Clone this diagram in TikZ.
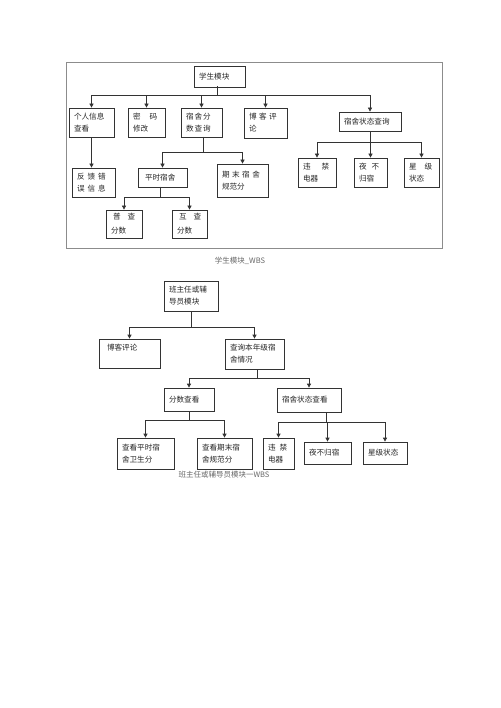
\documentclass[tikz,border=0pt]{standalone}
\usepackage{fontspec}
\setmainfont{Noto Sans CJK SC}
\usetikzlibrary{arrows.meta}
\begin{document}
\begin{tikzpicture}[x=1pt,y=-1pt,
  bx/.style 2 args={draw=black!80, line width=0.7pt, text width=#1, minimum height=#2,
    inner xsep=5pt, inner ysep=0pt, align=left, font=\fontsize{7.6}{12}\selectfont, text=black!85},
  arr/.style={draw=black!80, line width=0.7pt, -{Triangle[length=4pt,width=4pt]}},
  captxt/.style={font=\fontsize{7.5}{9}\selectfont, text=black!60}]
\useasboundingbox (0,0) rectangle (500,708);
% frame of top diagram
\draw[black!45, line width=0.6pt] (66,62) rectangle (442,248);

% ---------- top diagram: student module ----------
\node[bx={41pt}{21pt}] (root) at (219.5,76.5) {学生模块};
\node[bx={35pt}{29pt}] (gr) at (91.5,122.5) {个人信息\\查看};
\node[bx={27pt}{29pt}] (mm) at (146.5,122.5) {密\hspace{9pt}码\\修改};
\node[bx={31pt}{29pt}] (sf) at (201.5,122.5) {宿\kern1pt 舍\kern1pt 分\\数\kern1pt 查\kern1pt 询};
\node[bx={33pt}{30pt}] (bk) at (265.5,123) {博\kern2.5pt 客\kern2.5pt 评\\论};
\node[bx={52pt}{19pt}] (zt) at (370,121.5) {宿舍状态查询};
\node[bx={33pt}{29pt}] (fk) at (93.5,182.5) {反\kern3pt 馈\kern3pt 错\\误\kern3pt 信\kern3pt 息};
\node[bx={39pt}{19pt}] (ps) at (162.5,177.5) {\kern2pt 平时宿舍};
\node[bx={41pt}{33pt}] (qm) at (242.5,180.5) {期\kern2.5pt 末\kern2.5pt 宿\kern2.5pt 舍\\规范分};
\node[bx={26pt}{28pt}] (pc) at (124,224) {\kern2pt 普\hspace{7pt}查\\\kern2pt 分数};
\node[bx={25pt}{28pt}] (hc) at (189.5,224) {\kern2pt 互\hspace{7pt}查\\\kern2pt 分数};
\node[bx={28pt}{29pt}] (wj) at (317,172.5) {违\hspace{11pt}禁\\电器};
\node[bx={23pt}{29pt}] (yb) at (370.5,172.5) {夜\hspace{5pt}不\\归宿};
\node[bx={25pt}{29pt}] (xj) at (421.5,172.5) {星\hspace{8pt}级\\状态};

\coordinate (busA) at (0,95);
\coordinate (busB) at (0,152);
\coordinate (busC) at (0,197);
\coordinate (busD) at (0,142);
\coordinate (rootout) at (217,86.5);
\coordinate (sfout) at (203,137);
\coordinate (psout) at (160,187);

\foreach \c in {gr,mm,sf,bk,zt}
  \draw[arr] (rootout) -- (rootout |- busA) -| (\c.north);
\draw[arr] (gr.south) -- (gr.south |- fk.north);
\foreach \c in {ps,qm}
  \draw[arr] (sfout) -- (sfout |- busB) -| (\c.north);
\foreach \c in {pc,hc}
  \draw[arr] (psout) -- (psout |- busC) -| (\c.north);
\foreach \c in {wj,yb,xj}
  \draw[arr] (zt.south) -- (zt.south |- busD) -| (\c.north);

\node[captxt] (cap1) at (240,261) {学生模块\_WBS};

% ---------- bottom diagram: head teacher module ----------
\node[bx={44pt}{30pt}] (r2) at (191,296) {班主任或辅\\导员模块};
\node[bx={51pt}{29pt}] (bk2) at (129.5,353.5) {\kern3pt 博客评论\\\mbox{}};
\node[bx={49pt}{30pt}] (cx) at (254.5,354) {查询本年级宿\\舍情况};
\node[bx={40pt}{23pt}] (fs) at (189,399.5) {分数查看};
\node[bx={54pt}{24pt}] (zk) at (309,400) {宿舍状态查看};
\node[bx={47pt}{31pt}] (c1) at (145.5,453.5) {查看平时宿\\舍卫生分};
\node[bx={45pt}{31pt}] (c2) at (224.5,453.5) {查看期末宿\\舍规范分};
\node[bx={21pt}{31pt}] (w2) at (278.5,453.5) {违\hspace{4pt}禁\\电器};
\node[bx={37pt}{22pt}] (y2) at (327.5,453) {夜不归宿};
\node[bx={34pt}{22pt}] (x2) at (385,453) {星级状态};

\coordinate (busE) at (0,327);
\coordinate (busF) at (0,378);
\coordinate (busG) at (0,420);
\coordinate (busH) at (0,422);
\coordinate (cxout) at (257,369);
\coordinate (zkout) at (326,412);

\foreach \c in {bk2,cx}
  \draw[arr] (r2.south) -- (r2.south |- busE) -| (\c.north);
\foreach \c in {fs,zk}
  \draw[arr] (cxout) -- (cxout |- busF) -| (\c.north);
\foreach \c in {c1,c2}
  \draw[arr] (fs.south) -- (fs.south |- busG) -| (\c.north);
\foreach \c in {w2,y2,x2}
  \draw[arr] (zkout) -- (zkout |- busH) -| (\c.north);

\node[captxt] (cap2) at (224,475) {班主任或辅导员模块一WBS};
\end{tikzpicture}
\end{document}
